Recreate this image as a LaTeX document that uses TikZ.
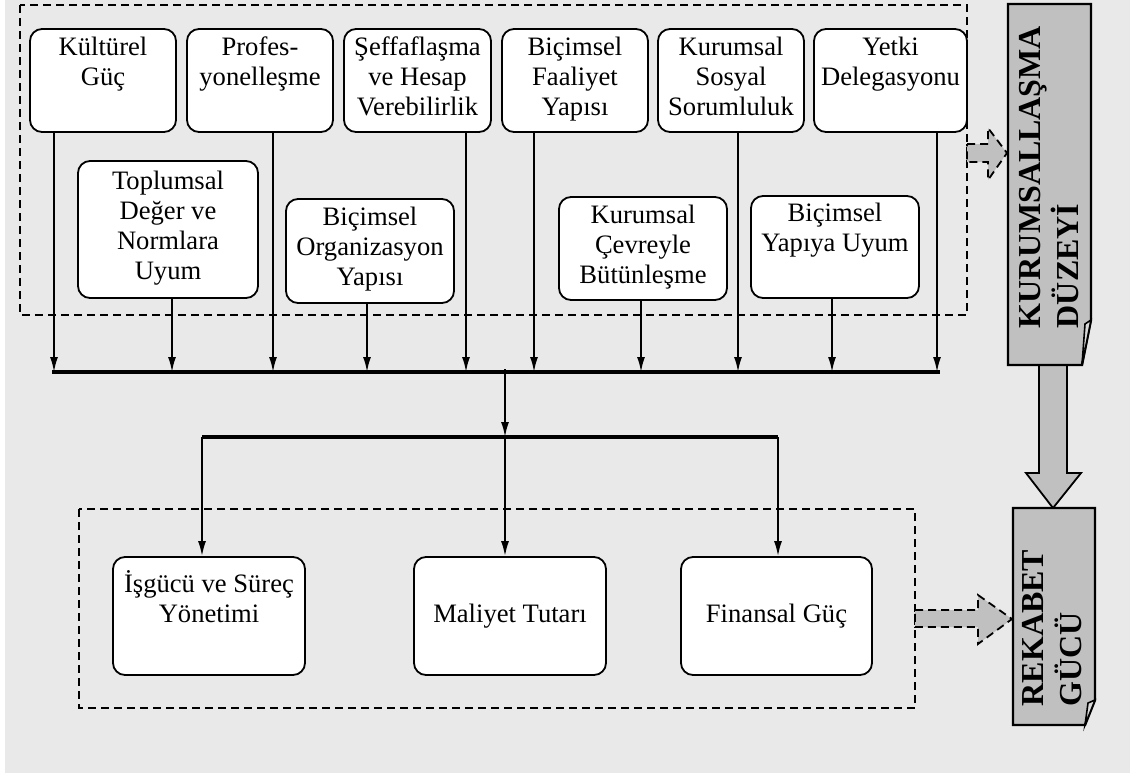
\documentclass[tikz,border=0pt]{standalone}
\usepackage{fontspec}
\setmainfont{Liberation Serif}
\usepackage{tikz}
\usetikzlibrary{arrows.meta}
\definecolor{zemin}{HTML}{E9E9E9}
\definecolor{koyugri}{HTML}{C0C0C0}

\begin{document}
\begin{tikzpicture}[x=0.5pt, y=-0.5pt,
    kutu/.style={draw, line width=0.9pt, rounded corners=6pt, fill=white, align=center,
        inner sep=0pt, font=\fontsize{13.3}{15}\selectfont,
        execute at begin node=\strut, execute at end node=\strut},
    ok/.style={-{Latex[length=7.5pt,width=4pt]}, line width=0.9pt},
    cizgi/.style={line width=1.8pt},
    kesik/.style={dash pattern=on 4pt off 2.5pt, line width=1pt},
    dikyazi/.style={rotate=90, align=left, inner sep=0pt, font=\fontsize{16}{19}\selectfont\bfseries}]
    % zemin
    \useasboundingbox (0,0) rectangle (1130,776);
    \fill[zemin] (5,0) rectangle (1130,773);

    % kesikli çerçeveler
    \draw[kesik] (20,5) rectangle (967,315);
    \draw[kesik] (79,509) rectangle (915,708);

    % gri oklar
    \filldraw[fill=koyugri, kesik, line width=0.9pt] (967,144) -- (988,144) -- (988,128) -- (1007,153)
        -- (988,180) -- (988,162) -- (967,162) -- cycle;
    \filldraw[fill=koyugri, kesik, line width=0.9pt] (915,610) -- (978,610) -- (978,595) -- (1012,619)
        -- (978,644) -- (978,627) -- (915,627) -- cycle;
    \filldraw[fill=koyugri, line width=0.9pt] (1039,365) -- (1039,473) -- (1026,473) -- (1053,508)
        -- (1081,473) -- (1067,473) -- (1067,365) -- cycle;

    % sağdaki gri kutular
    \filldraw[fill=koyugri, line width=1.2pt] (1008,4) -- (1091,4) -- (1091,320) -- (1082,365)
        -- (1008,365) -- cycle;
    \filldraw[fill=koyugri!60, line width=0.8pt] (1091,320) -- (1085,324) -- (1082,365) -- cycle;
    \node[dikyazi] (kurumsal) at (1049,177) {KURUMSALLAŞMA\\DÜZEYİ};

    \filldraw[fill=koyugri, line width=1.2pt] (1013,508) -- (1095,508) -- (1095,700) -- (1085,725)
        -- (1013,725) -- cycle;
    \filldraw[fill=koyugri!60, line width=0.8pt] (1095,700) -- (1088,703) -- (1085,725) -- cycle;
    \node[dikyazi] (rekabet) at (1052,628) {REKABET\\GÜCÜ};

    % üst sıra
    \node[kutu, minimum width=73pt, minimum height=51.5pt] (kultur) at (103,80.5) {Kültürel\\Güç\\};
    \node[kutu, minimum width=73pt, minimum height=51.5pt] (profes) at (260,80.5) {Profes-\\yonelleşme\\};
    \node[kutu, minimum width=73.5pt, minimum height=51.5pt] (seffaf) at (417.5,80.5) {Şeffaflaşma\\ve Hesap\\Verebilirlik};
    \node[kutu, minimum width=73pt, minimum height=51.5pt] (faaliyet) at (575,80.5) {Biçimsel\\Faaliyet\\Yapısı};
    \node[kutu, minimum width=73pt, minimum height=51.5pt] (sosyal) at (731,80.5) {Kurumsal\\Sosyal\\Sorumluluk};
    \node[kutu, minimum width=76.5pt, minimum height=51.5pt] (yetki) at (890.5,80.5) {Yetki\\Delegasyonu\\};

    % alt sıra
    \node[kutu, minimum width=90pt, minimum height=68.5pt] (toplum) at (168,229.5) {Toplumsal\\Değer ve\\Normlara\\Uyum};
    \node[kutu, minimum width=84pt, minimum height=52pt] (orgyapi) at (370,251) {Biçimsel\\Organizasyon\\Yapısı};
    \node[kutu, minimum width=84pt, minimum height=51.5pt] (cevre) at (643,248.5) {Kurumsal\\Çevreyle\\Bütünleşme};
    \node[kutu, minimum width=84pt, minimum height=51pt] (uyum) at (835,247) {Biçimsel\\Yapıya Uyum\\};

    % toplama çizgisi
    \coordinate (barL) at (52,372);
    \coordinate (barR) at (940,372);
    \draw[cizgi] (barL) -- (barR);
    \coordinate (d1) at (54,372);
    \coordinate (d2) at (172,372);
    \coordinate (d3) at (273,372);
    \coordinate (d4) at (367,372);
    \coordinate (d5) at (466,372);
    \coordinate (d6) at (534,372);
    \coordinate (d7) at (641,372);
    \coordinate (d8) at (738,372);
    \coordinate (d9) at (832,372);
    \coordinate (d10) at (937,372);
    \draw[ok] (kultur.south -| d1) -- (d1);
    \draw[ok] (toplum.south -| d2) -- (d2);
    \draw[ok] (profes.south -| d3) -- (d3);
    \draw[ok] (orgyapi.south -| d4) -- (d4);
    \draw[ok] (seffaf.south -| d5) -- (d5);
    \draw[ok] (faaliyet.south -| d6) -- (d6);
    \draw[ok] (cevre.south -| d7) -- (d7);
    \draw[ok] (sosyal.south -| d8) -- (d8);
    \draw[ok] (uyum.south -| d9) -- (d9);
    \draw[ok] (yetki.south -| d10) -- (d10);

    % rekabet unsurları
    \node[kutu, minimum width=96pt, minimum height=59pt] (isgucu) at (209,616) {İşgücü ve Süreç\\Yönetimi\\};
    \node[kutu, minimum width=96pt, minimum height=59pt] (maliyet) at (510,616) {Maliyet Tutarı};
    \node[kutu, minimum width=95.5pt, minimum height=59pt] (finans) at (776.5,616) {Finansal Güç};

    \coordinate (barM) at (505,369);
    \coordinate (altM) at (505,437);
    \coordinate (altL) at (202,437);
    \coordinate (altR) at (778,437);
    \draw[ok] (barM) -- (altM);
    \draw[cizgi] (altL) -- (altR);
    \draw[ok] (altL) -- (isgucu.north -| altL);
    \draw[ok] (altM) -- (maliyet.north -| altM);
    \draw[ok] (altR) -- (finans.north -| altR);
\end{tikzpicture}
\end{document}
